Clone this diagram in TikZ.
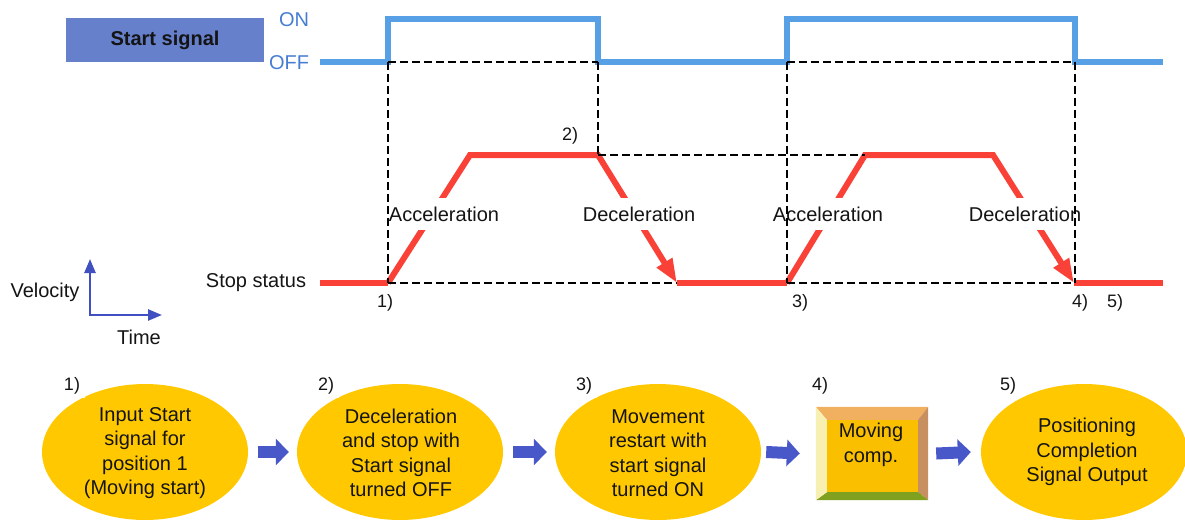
\documentclass[tikz,border=0pt]{standalone}
\usepackage{fontspec}
\setmainfont{Liberation Sans}
\usetikzlibrary{arrows.meta,shapes.geometric,calc}
\definecolor{sigblue}{RGB}{88,160,230}
\definecolor{onoffc}{RGB}{70,125,210}
\definecolor{startboxc}{RGB}{102,128,204}
\definecolor{velred}{RGB}{250,65,55}
\definecolor{axisblue}{RGB}{64,80,192}
\definecolor{goldc}{RGB}{255,200,0}
\definecolor{facec}{RGB}{250,192,0}
\definecolor{arrowblue}{RGB}{72,88,200}
\definecolor{beveltop}{RGB}{240,176,96}
\definecolor{bevelleft}{RGB}{248,240,176}
\definecolor{bevelright}{RGB}{200,144,96}
\definecolor{bevelbottom}{RGB}{128,160,32}
\definecolor{textc}{RGB}{20,20,20}
\begin{document}
\begin{tikzpicture}[x=1pt,y=-1pt,
  txt/.style={font=\fontsize{20}{24.5}\selectfont, text=textc, inner sep=0pt, align=center},
  numlabel/.style={font=\fontsize{18}{21}\selectfont, text=textc, inner sep=2pt},
  boxnum/.style={numlabel, fill=white, inner xsep=5pt, inner ysep=4pt},
  phase/.style={txt, fill=white, inner xsep=1pt, minimum height=32pt},
  stepell/.style={ellipse, fill=goldc, minimum width=206pt, minimum height=136pt, inner sep=0pt},
  flowarrow/.style={arrowblue, line width=12pt, -{Triangle[length=13pt,width=26pt]}},
  dashline/.style={black, line width=1.4pt, dash pattern=on 8pt off 4pt},
  sig/.style={sigblue, line width=6pt, line join=miter},
  vel/.style={velred, line width=6pt, line join=miter},
  velarrow/.style={vel, -{Triangle[length=24pt,width=17pt]}},
  axisarrow/.style={axisblue, line width=2.5pt, {Triangle[length=14pt,width=11pt]}-{Triangle[length=14pt,width=11pt]}}
]
\useasboundingbox (0,0) rectangle (1185,522);

% ---- Start signal ----
\node[fill=startboxc, minimum width=198pt, minimum height=44pt, inner sep=0pt,
      font=\bfseries\fontsize{20}{24}\selectfont, text=textc] (start) at (165,40) {Start signal};
\node[txt, text=onoffc] (on) at (294,20) {ON};
\node[txt, text=onoffc] (off) at (289,63) {OFF};
\draw[sig] (320,62) -- (388,62) -- (388,19) -- (598,19) -- (598,62) -- (787,62)
  -- (787,19) -- (1075,19) -- (1075,62) -- (1163,62);

% ---- Velocity ----
\node[txt] (stop) at (256,283) {Stop status};
\draw[vel] (320,283) -- (388,283);
\draw[velarrow] (388,283) -- (470,155) -- (598,155) -- (677,283);
\draw[vel] (677,283) -- (787,283);
\draw[velarrow] (787,283) -- (865,155) -- (993,155) -- (1074,283);
\draw[vel] (1074,283) -- (1163,283);

\node[phase] (acc1) at (444,214) {Acceleration};
\node[phase] (dec1) at (639,214) {Deceleration};
\node[phase] (acc2) at (828,214) {Acceleration};
\node[phase] (dec2) at (1025,214) {Deceleration};

% dashed guides
\draw[dashline] (388,62) -- (598,62);
\draw[dashline] (787,62) -- (1075,62);
\draw[dashline] (388,62) -- (388,283);
\draw[dashline] (598,62) -- (598,155);
\draw[dashline] (787,62) -- (787,283);
\draw[dashline] (1075,62) -- (1075,283);
\draw[dashline] (598,155) -- (865,155);
\draw[dashline] (388,283) -- (677,283);
\draw[dashline] (787,283) -- (1074,283);

\node[numlabel] (t2) at (570,136) {2)};
\node[numlabel] (t1) at (385,303) {1)};
\node[numlabel] (t3) at (800,303) {3)};
\node[numlabel] (t4) at (1080,303) {4)};
\node[numlabel] (t5) at (1115,303) {5)};

% axes
\draw[axisarrow] (90,259) -- (90,315) -- (162,315);
\node[txt] (vlab) at (45,292) {Velocity};
\node[txt] (tlab) at (139,337) {Time};

% ---- Flow ----
\node[stepell] (e1) at (145,452) {};
\node[stepell] (e2) at (400,452) {};
\node[stepell] (e3) at (658,452) {};
\node[stepell] (e5) at (1084,452) {};
\node[minimum width=112pt, minimum height=93pt, inner sep=0pt] (b4) at (872,453.5) {};
\coordinate (i1) at ($(b4.north west)+(11,13)$);
\coordinate (i2) at ($(b4.north east)+(-10,13)$);
\coordinate (i3) at ($(b4.south east)+(-10,-8)$);
\coordinate (i4) at ($(b4.south west)+(11,-8)$);
\fill[beveltop] (b4.north west) -- (b4.north east) -- (i2) -- (i1) -- cycle;
\fill[bevelright] (b4.north east) -- (b4.south east) -- (i3) -- (i2) -- cycle;
\fill[bevelbottom] (b4.south east) -- (b4.south west) -- (i4) -- (i3) -- cycle;
\fill[bevelleft] (b4.south west) -- (b4.north west) -- (i1) -- (i4) -- cycle;
\fill[facec] (i1) -- (i2) -- (i3) -- (i4) -- cycle;

\node[txt] (e1t) at (145,453) {Input Start\\signal for\\position 1\\(Moving start)};
\node[txt] (e2t) at (401,453) {Deceleration\\and stop with\\Start signal\\turned OFF};
\node[txt] (e3t) at (658,453) {Movement\\restart with\\start signal\\turned ON};
\node[txt] (b4t) at (871,445) {Moving\\comp.};
\node[txt] (e5t) at (1087,452) {Positioning\\Completion\\Signal Output};

\node[boxnum] (n1) at (72,386) {1)};
\node[boxnum] (n2) at (326,386) {2)};
\node[boxnum] (n3) at (584,386) {3)};
\node[numlabel] (n4) at (820,386) {4)};
\node[boxnum] (n5) at (1008,386) {5)};

\draw[flowarrow] ([xshift=10pt]e1.east) -- ([xshift=-8pt]e2.west);
\draw[flowarrow] ([xshift=10pt]e2.east) -- ([xshift=-8pt]e3.west);
\draw[flowarrow] ([xshift=5pt]e3.east) -- ([xshift=-16pt]b4.west);
\draw[flowarrow] ([xshift=8pt]b4.east) -- ([xshift=-10pt]e5.west);
\end{tikzpicture}
\end{document}
